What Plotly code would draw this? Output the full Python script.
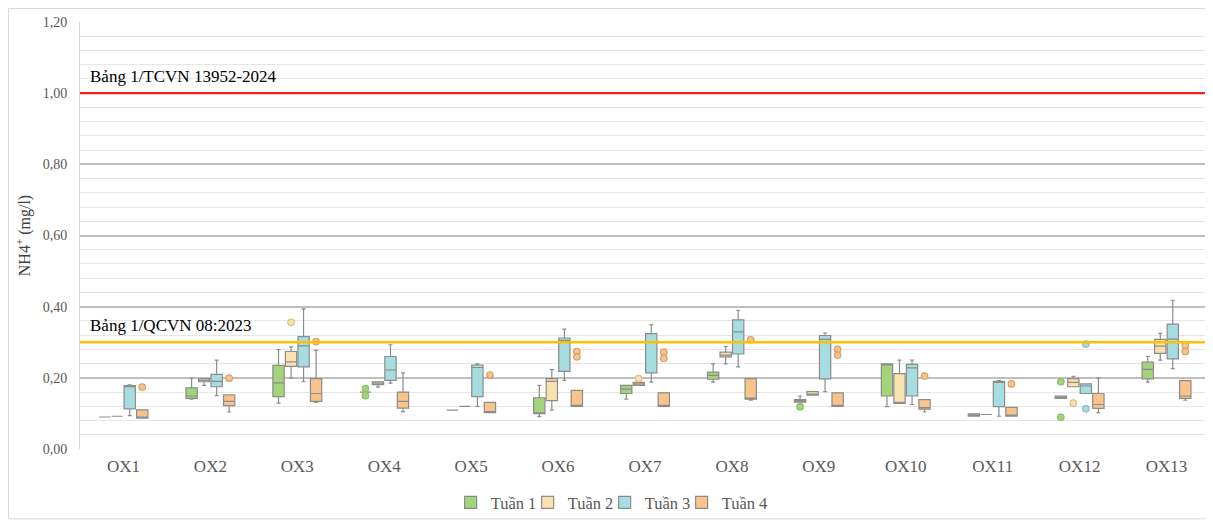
import plotly.graph_objects as go

stations = ["OX1", "OX2", "OX3", "OX4", "OX5", "OX6", "OX7", "OX8", "OX9", "OX10", "OX11", "OX12", "OX13"]
weeks = ["Tuần 1", "Tuần 2", "Tuần 3", "Tuần 4"]

# Box statistics per week (one value per station)
t1_q1 = [0.090, 0.142, 0.147, 0.160, 0.109, 0.099, 0.156, 0.196, 0.132, 0.149, 0.092, 0.142, 0.197]
t1_med = [0.090, 0.149, 0.186, 0.160, 0.109, 0.100, 0.168, 0.207, 0.135, 0.238, 0.095, 0.145, 0.224]
t1_q3 = [0.090, 0.172, 0.235, 0.160, 0.109, 0.144, 0.179, 0.216, 0.139, 0.239, 0.099, 0.149, 0.244]
t1_lo = [0.090, 0.140, 0.129, 0.160, 0.109, 0.091, 0.140, 0.188, 0.132, 0.119, 0.092, 0.142, 0.188]
t1_hi = [0.090, 0.199, 0.279, 0.160, 0.109, 0.179, 0.179, 0.239, 0.149, 0.239, 0.099, 0.149, 0.260]

t2_q1 = [0.092, 0.189, 0.232, 0.181, 0.120, 0.136, 0.179, 0.259, 0.151, 0.128, 0.097, 0.175, 0.269]
t2_med = [0.092, 0.193, 0.245, 0.185, 0.120, 0.190, 0.183, 0.264, 0.154, 0.130, 0.097, 0.187, 0.289]
t2_q3 = [0.092, 0.198, 0.274, 0.189, 0.120, 0.198, 0.187, 0.272, 0.161, 0.212, 0.097, 0.198, 0.308]
t2_lo = [0.092, 0.179, 0.199, 0.174, 0.120, 0.109, 0.179, 0.239, 0.151, 0.128, 0.097, 0.175, 0.250]
t2_hi = [0.092, 0.198, 0.287, 0.189, 0.120, 0.223, 0.187, 0.288, 0.161, 0.250, 0.097, 0.204, 0.325]

t3_q1 = [0.113, 0.175, 0.231, 0.193, 0.147, 0.218, 0.214, 0.267, 0.197, 0.149, 0.119, 0.156, 0.253]
t3_med = [0.175, 0.190, 0.290, 0.222, 0.229, 0.305, 0.302, 0.329, 0.308, 0.228, 0.188, 0.177, 0.309]
t3_q3 = [0.178, 0.210, 0.316, 0.260, 0.236, 0.312, 0.324, 0.363, 0.319, 0.238, 0.190, 0.183, 0.351]
t3_lo = [0.094, 0.150, 0.189, 0.185, 0.120, 0.193, 0.188, 0.231, 0.161, 0.125, 0.092, 0.156, 0.226]
t3_hi = [0.180, 0.250, 0.394, 0.293, 0.239, 0.337, 0.349, 0.390, 0.326, 0.250, 0.192, 0.183, 0.418]

t4_q1 = [0.087, 0.122, 0.134, 0.115, 0.102, 0.120, 0.120, 0.140, 0.120, 0.112, 0.092, 0.114, 0.142]
t4_med = [0.088, 0.134, 0.156, 0.134, 0.104, 0.122, 0.122, 0.141, 0.122, 0.116, 0.095, 0.125, 0.149]
t4_q3 = [0.110, 0.152, 0.198, 0.160, 0.131, 0.165, 0.158, 0.198, 0.158, 0.139, 0.117, 0.156, 0.192]
t4_lo = [0.087, 0.104, 0.131, 0.105, 0.102, 0.120, 0.120, 0.137, 0.120, 0.104, 0.092, 0.102, 0.137]
t4_hi = [0.110, 0.152, 0.277, 0.214, 0.131, 0.165, 0.158, 0.198, 0.158, 0.139, 0.117, 0.200, 0.192]

# Outliers: (station index, value)
t1_out_st = [3, 3, 8, 11, 11]
t1_out_val = [0.170, 0.150, 0.119, 0.189, 0.089]
t2_out_st = [2, 6, 11]
t2_out_val = [0.356, 0.198, 0.129]
t3_out_st = [11, 11]
t3_out_val = [0.295, 0.113]
t4_out_st = [0, 1, 2, 4, 5, 5, 6, 6, 7, 8, 8, 9, 10, 12, 12]
t4_out_val = [0.174, 0.199, 0.302, 0.208, 0.274, 0.259, 0.272, 0.255, 0.307, 0.280, 0.264, 0.205, 0.183, 0.291, 0.274]

limit_tcvn = 1.00
limit_qcvn = 0.30
label_tcvn = "Bảng 1/TCVN 13952-2024"
label_qcvn = "Bảng 1/QCVN 08:2023"

colors = ["#A3D47C", "#F9E2AE", "#A6DDE0", "#F9C48C"]
outline_out = ["#8FBF6A", "#D9C08A", "#86BFC2", "#D9A06A"]
offsets = [-0.216, -0.072, 0.072, 0.216]

stats = [
    (t1_q1, t1_med, t1_q3, t1_lo, t1_hi, t1_out_st, t1_out_val),
    (t2_q1, t2_med, t2_q3, t2_lo, t2_hi, t2_out_st, t2_out_val),
    (t3_q1, t3_med, t3_q3, t3_lo, t3_hi, t3_out_st, t3_out_val),
    (t4_q1, t4_med, t4_q3, t4_lo, t4_hi, t4_out_st, t4_out_val),
]

SERIF = "Liberation Serif, Times New Roman, serif"
fig = go.Figure()

for k, (q1, med, q3, lo, hi, ost, oval) in enumerate(stats):
    xs = [i + offsets[k] for i in range(len(stations))]
    fig.add_trace(go.Box(
        x=xs, q1=q1, median=med, q3=q3, lowerfence=lo, upperfence=hi,
        name=weeks[k], width=0.13, whiskerwidth=0.35,
        fillcolor=colors[k], line=dict(color="#8C8C8C", width=1.2),
        boxpoints=False, showlegend=True,
    ))
    fig.add_trace(go.Scatter(
        x=[s + offsets[k] for s in ost], y=oval, mode="markers",
        marker=dict(color=colors[k], size=6.5, line=dict(color=outline_out[k], width=1.2)),
        showlegend=False, hoverinfo="y",
    ))

# empty legend slot so the last legend label is not clipped
fig.add_trace(go.Scatter(x=[None], y=[None], mode="none", name=" ", showlegend=True,
                         hoverinfo="skip"))

# Reference lines
fig.add_shape(type="line", xref="paper", x0=0, x1=1, yref="y", y0=limit_tcvn, y1=limit_tcvn,
              line=dict(color="#FF1E1E", width=2.2))
fig.add_shape(type="line", xref="paper", x0=0, x1=1, yref="y", y0=limit_qcvn, y1=limit_qcvn,
              line=dict(color="#FFC000", width=2.5))
fig.add_annotation(text=label_tcvn, xref="paper", x=0.007, yref="y", y=limit_tcvn, yshift=5,
                   xanchor="left", yanchor="bottom", showarrow=False,
                   font=dict(family=SERIF, size=17, color="#000000"))
fig.add_annotation(text=label_qcvn, xref="paper", x=0.007, yref="y", y=limit_qcvn, yshift=5,
                   xanchor="left", yanchor="bottom", showarrow=False,
                   font=dict(family=SERIF, size=17, color="#000000"))

# Outer chart border (figure edge)
fig.add_shape(type="rect", xref="paper", yref="paper",
              x0=-0.0633, x1=1.0009, y0=-0.1636, y1=1.0315,
              line=dict(color="#D9D9D9", width=1))

fig.update_layout(
    width=1205, height=514,
    margin=dict(l=72, r=3, t=14, b=72),
    paper_bgcolor="white", plot_bgcolor="white",
    separators=", ",
    font=dict(family=SERIF, size=14, color="#595959"),
    legend=dict(orientation="h", x=0.328, xanchor="left", y=-0.082, yanchor="top",
                bgcolor="rgba(0,0,0,0)",
                font=dict(family=SERIF, size=16.5, color="#595959"), itemwidth=30,
                entrywidth=32),
    xaxis=dict(range=[-0.5, 12.5], tickmode="array", tickvals=list(range(len(stations))),
               ticktext=stations, showgrid=False, zeroline=False, showline=False,
               ticks="", ticklabelstandoff=5, automargin=False,
               tickfont=dict(family=SERIF, size=17, color="#595959")),
    yaxis=dict(range=[0, 1.2], dtick=0.2, tickformat=".2f", showgrid=True,
               gridcolor="#BFBFBF", gridwidth=1.5, zeroline=False,
               showline=True, linecolor="#D9D9D9", linewidth=1,
               ticks="", ticklabelstandoff=9, automargin=False,
               minor=dict(dtick=0.04, showgrid=True, gridcolor="#E6E6E6", gridwidth=1),
               tickfont=dict(family=SERIF, size=14, color="#595959"),
               title=dict(text="NH4<sup>+</sup> (mg/l)", font=dict(family=SERIF, size=16, color="#404040"),
                          standoff=8)),
)

fig.write_html("out.html")
